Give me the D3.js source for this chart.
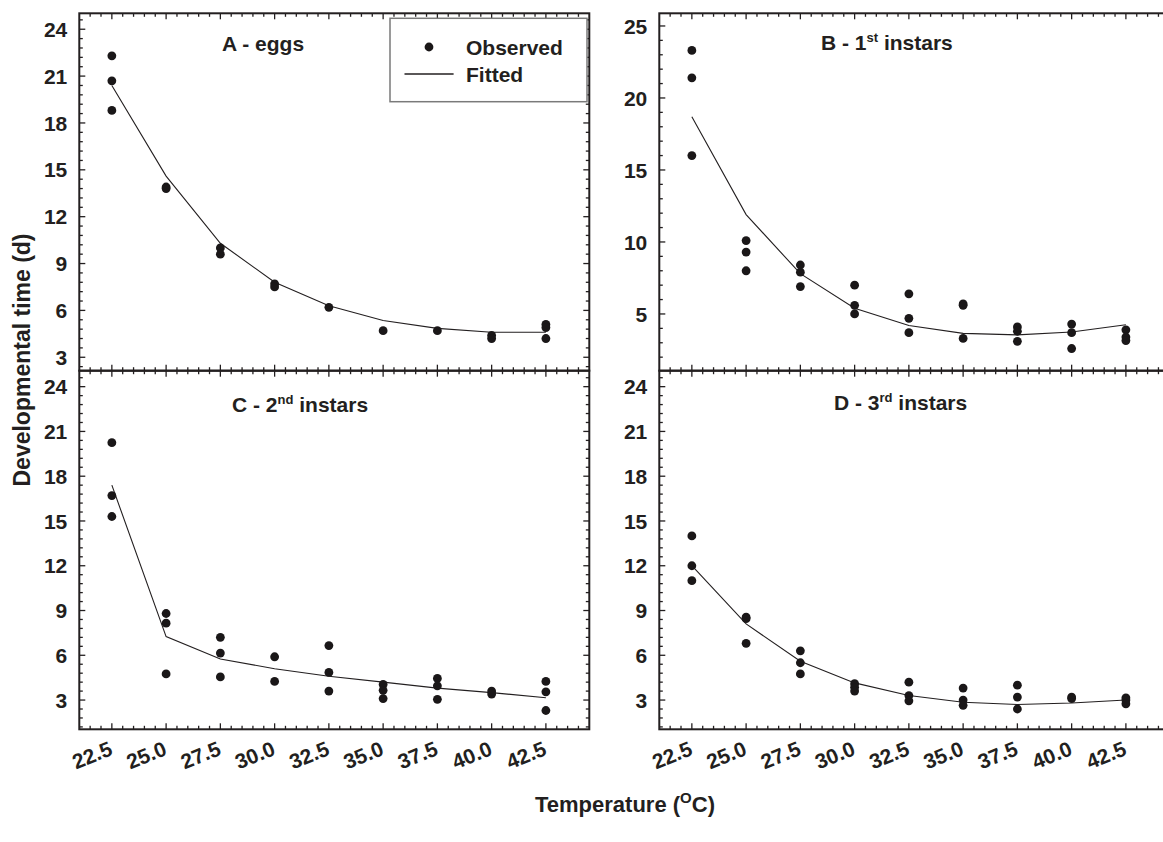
<!DOCTYPE html>
<html><head><meta charset="utf-8">
<script src="https://cdn.jsdelivr.net/npm/d3@7"></script>
<style>
body{margin:0;background:#fff}
svg{display:block}
text{font-family:"Liberation Sans",Arial,sans-serif;font-weight:bold;fill:#231f20}
</style>
</head><body>
<svg id="chart" width="1163" height="842"></svg>
<script>
// ---- data ----
const temps = [22.5, 25.0, 27.5, 30.0, 32.5, 35.0, 37.5, 40.0, 42.5];
const xTickLabels = ["22.5", "25.0", "27.5", "30.0", "32.5", "35.0", "37.5", "40.0", "42.5"];

const obsA = [[22.3, 20.7, 18.8], [13.9, 13.8], [10.0, 9.6], [7.7, 7.5], [6.2], [4.7], [4.7], [4.4, 4.2], [5.1, 4.9, 4.2]];
const fitA = [20.4, 14.6, 10.3, 7.8, 6.3, 5.35, 4.85, 4.6, 4.6];

const obsB = [[23.3, 21.4, 16.0], [10.1, 9.3, 8.0], [8.4, 7.9, 6.9], [7.0, 5.6, 5.0], [6.4, 4.7, 3.7], [5.7, 5.6, 3.3], [4.1, 3.8, 3.1], [4.3, 3.7, 2.6], [3.9, 3.4, 3.15]];
const fitB = [18.7, 11.9, 7.8, 5.4, 4.2, 3.65, 3.55, 3.75, 4.25];

const obsC = [[20.25, 16.7, 15.3], [8.8, 8.15, 4.75], [7.2, 6.15, 4.55], [5.9, 4.25], [6.65, 4.85, 3.6], [4.05, 3.65, 3.1], [4.45, 3.95, 3.05], [3.6, 3.4], [4.25, 3.55, 2.3]];
const fitC = [17.4, 7.25, 5.75, 5.1, 4.6, 4.2, 3.8, 3.5, 3.15];

const obsD = [[14.0, 12.0, 11.0], [8.55, 8.45, 6.8], [6.3, 5.5, 4.75], [4.1, 3.85, 3.6], [4.2, 3.3, 2.95], [3.8, 3.0, 2.65], [4.0, 3.2, 2.4], [3.2, 3.1], [3.15, 3.0, 2.75]];
const fitD = [12.0, 8.1, 5.6, 4.15, 3.3, 2.85, 2.7, 2.8, 3.0];

const yTicks3 = [3, 6, 9, 12, 15, 18, 21, 24];
const yTicks5 = [5, 10, 15, 20, 25];

const legendLabels = ["Observed", "Fitted"];
const xTitle = "Temperature (";
const yTitle = "Developmental time (d)";

// ---- layout ----
const svg = d3.select("#chart");
const panels = [
  {obs: obsA, fit: fitA, left: 79.3, top: 13.3, w: 510, h: 357.4, yDom: [2.14, 25.02], yTicks: yTicks3, yMinor: 0.6,
   title: ["A - eggs", "", ""], tx: 222, ty: 51, xLabels: false, legend: true},
  {obs: obsB, fit: fitB, left: 659.3, top: 13.3, w: 510, h: 357.4, yDom: [1.06, 25.88], yTicks: yTicks5, yMinor: 1,
   title: ["B - 1", "st", " instars"], tx: 821, ty: 50, xLabels: false},
  {obs: obsC, fit: fitC, left: 79.3, top: 370.7, w: 510, h: 358.6, yDom: [1.04, 25.07], yTicks: yTicks3, yMinor: 0.6,
   title: ["C - 2", "nd", " instars"], tx: 232, ty: 411.5, xLabels: true},
  {obs: obsD, fit: fitD, left: 659.3, top: 370.7, w: 510, h: 358.6, yDom: [1.04, 25.07], yTicks: yTicks3, yMinor: 0.6,
   title: ["D - 3", "rd", " instars"], tx: 834, ty: 410, xLabels: true}
];

const xDom = [21, 44.5];
const isMult = (v, s) => Math.abs(v / s - Math.round(v / s)) < 1e-6;

panels.forEach(p => {
  const x = d3.scaleLinear().domain(xDom).range([p.left, p.left + p.w]);
  const y = d3.scaleLinear().domain(p.yDom).range([p.top + p.h, p.top]);
  const g = svg.append("g");
  const step = p.yTicks[1] - p.yTicks[0];

  const xMinor = d3.range(21, 44.51, 0.5).filter(v => v > xDom[0] + 0.01 && v < xDom[1] - 0.01 && !temps.includes(v));
  const yMinorVals = d3.range(0, 27, p.yMinor).map(v => +v.toFixed(2))
      .filter(v => v > p.yDom[0] && v < p.yDom[1] && !isMult(v, step));

  const bottom = p.top + p.h, right = p.left + p.w;
  const tk = (x1, y1, x2, y2) => g.append("line").attr("x1", x1).attr("y1", y1).attr("x2", x2).attr("y2", y2)
      .attr("stroke", "#231f20").attr("stroke-width", 1.3);

  // x ticks (bottom and top, inward)
  temps.forEach(t => { tk(x(t), bottom, x(t), bottom - 6); tk(x(t), p.top, x(t), p.top + 6); });
  xMinor.forEach(t => { tk(x(t), bottom, x(t), bottom - 3.5); tk(x(t), p.top, x(t), p.top + 3.5); });
  // y ticks (left and right, inward)
  p.yTicks.forEach(v => { tk(p.left, y(v), p.left + 6, y(v)); tk(right, y(v), right - 6, y(v)); });
  yMinorVals.forEach(v => { tk(p.left, y(v), p.left + 3.5, y(v)); tk(right, y(v), right - 3.5, y(v)); });

  // frame
  g.append("rect").attr("x", p.left).attr("y", p.top).attr("width", p.w).attr("height", p.h)
    .attr("fill", "none").attr("stroke", "#231f20").attr("stroke-width", 2);

  // y tick labels
  g.selectAll(".yl").data(p.yTicks).join("text")
    .attr("x", p.left - 12).attr("y", v => y(v)).attr("dy", "0.36em")
    .attr("text-anchor", "end").attr("font-size", 21).text(v => v);

  // x tick labels
  if (p.xLabels) {
    g.selectAll(".xl").data(temps).join("text")
      .attr("text-anchor", "end").attr("font-size", 21)
      .attr("transform", (t) => `translate(${x(t) + 2},${bottom + 25}) rotate(-22)`)
      .text((t, i) => xTickLabels[i]);
  }

  // fitted line
  const line = d3.line().x((d, i) => x(temps[i])).y(d => y(d));
  g.append("path").datum(p.fit).attr("d", line).attr("fill", "none")
    .attr("stroke", "#231f20").attr("stroke-width", 1.1);

  // observed points
  const pts = [];
  p.obs.forEach((arr, i) => arr.forEach(v => pts.push([temps[i], v])));
  g.selectAll(".pt").data(pts).join("circle")
    .attr("cx", d => x(d[0])).attr("cy", d => y(d[1])).attr("r", 4.4).attr("fill", "#1a1718");

  // title
  const tt = g.append("text").attr("x", p.tx).attr("y", p.ty).attr("font-size", 21);
  tt.append("tspan").text(p.title[0]);
  if (p.title[1]) {
    tt.append("tspan").attr("font-size", 13).attr("dy", -8).text(p.title[1]);
    tt.append("tspan").attr("dy", 8).text(p.title[2]);
  }

  // legend
  if (p.legend) {
    const lg = svg.append("g");
    lg.append("rect").attr("x", 390).attr("y", 18.3).attr("width", 197).attr("height", 83.4)
      .attr("fill", "#fff").attr("stroke", "#7a7a7a").attr("stroke-width", 1.5);
    lg.append("circle").attr("cx", 429).attr("cy", 47).attr("r", 4.4).attr("fill", "#1a1718");
    lg.append("line").attr("x1", 404.5).attr("x2", 453.6).attr("y1", 74).attr("y2", 74)
      .attr("stroke", "#231f20").attr("stroke-width", 1.3);
    lg.append("text").attr("x", 466).attr("y", 54.5).attr("font-size", 21).text(legendLabels[0]);
    lg.append("text").attr("x", 466).attr("y", 82).attr("font-size", 21).text(legendLabels[1]);
  }
});

// axis titles
const yt = svg.append("text").attr("transform", "translate(30,360) rotate(-90)")
  .attr("text-anchor", "middle").attr("font-size", 23).text(yTitle);

const xt = svg.append("text").attr("x", 625).attr("y", 812).attr("text-anchor", "middle").attr("font-size", 22);
xt.append("tspan").text(xTitle);
xt.append("tspan").attr("font-size", 15).attr("dy", -9).text("O");
xt.append("tspan").attr("dy", 9).text("C)");
</script>
</body></html>
